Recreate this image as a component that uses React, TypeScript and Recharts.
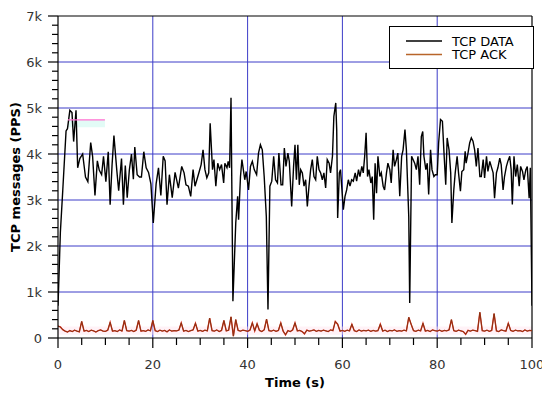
import React from "react";
import {
  LineChart,
  Line,
  XAxis,
  YAxis,
  CartesianGrid,
  ReferenceLine,
  ReferenceArea
} from "recharts";

// TCP DATA samples: [time (s), packets per second]
const dataSeg1: [number, number][] = [
  [0, 700], [0.1, 1000], [0.5, 2300], [1.0, 3200], [1.7, 4500], [2.0, 4550],
  [2.5, 4950], [2.95, 4900], [3.3, 4270], [3.8, 4950], [4.15, 3700], [4.6, 3900],
  [5.2, 4000], [5.8, 3500], [6.3, 3400], [6.9, 4250], [7.3, 3950], [7.8, 3100],
  [8.3, 3850], [8.7, 3650], [9.2, 3550], [9.6, 3950], [10.1, 3400], [10.6, 4050],
  [11.0, 2900], [11.4, 3750], [11.8, 4400], [12.4, 3650], [12.8, 3200], [13.4, 3900],
  [13.8, 2900], [14.2, 3750], [14.6, 3050], [15.05, 3650], [15.5, 4000], [15.9, 3450],
  [16.2, 4150], [16.7, 3550], [17.2, 3500], [17.6, 3500], [18.1, 4050], [18.6, 3700],
  [19.1, 3600], [19.6, 3350], [20.1, 2500], [20.7, 3350], [21.2, 3700], [21.7, 3100],
  [22.2, 3950], [22.6, 3850], [23.0, 2900], [23.5, 3550], [24.1, 3050], [24.7, 3600]
];

const dataSeg2: [number, number][] = [
  [25.4, 3260], [26.1, 3730], [26.6, 3590], [27.0, 3330], [27.5, 3300], [28.0, 3080],
  [28.5, 3660], [28.9, 3300], [29.3, 3440], [29.8, 3620], [30.2, 3770], [30.6, 4090],
  [31.0, 3660], [31.4, 3480], [31.8, 3590], [32.1, 4670], [32.6, 3660], [32.9, 3880],
  [33.3, 3300], [33.7, 3800], [34.1, 3660], [34.5, 3770], [34.95, 3370], [35.2, 3800],
  [35.65, 3700], [35.9, 3840], [36.2, 3700], [36.5, 5220], [36.9, 800], [37.5, 2500],
  [37.9, 3080], [38.1, 2570], [38.5, 3510], [38.8, 3880], [39.1, 3660], [39.4, 3440],
  [39.7, 3620], [40.2, 3220], [40.6, 3730], [41.0, 3840], [41.4, 3660], [41.9, 3550],
  [42.3, 4020], [42.7, 4200], [43.1, 4090], [43.5, 3510], [43.95, 2640], [44.3, 620],
  [44.7, 3300], [45.1, 3410], [45.5, 3950], [45.9, 3440], [46.3, 3370], [46.6, 4020],
  [47.05, 3330], [47.4, 3330], [47.75, 4130], [48.1, 3730], [48.5, 4020], [48.8, 3840],
  [49.3, 2860], [49.7, 3730], [50.0, 4200]
];

const dataSeg3: [number, number][] = [
  [50.3, 3440], [50.6, 4200], [50.9, 3330], [51.2, 3660], [51.55, 3590], [51.9, 3300],
  [52.25, 3440], [52.6, 2860], [52.95, 3300], [53.3, 3660], [53.65, 3880], [54.0, 3510],
  [54.36, 3440], [54.7, 3950], [55.06, 3660], [55.4, 3590], [55.77, 3440], [56.1, 3590],
  [56.47, 3260], [56.8, 3880], [57.2, 3800], [57.5, 3590], [57.9, 3950], [58.2, 4820],
  [58.6, 5110], [58.8, 4530], [59.0, 2610], [59.35, 3590], [59.6, 3660], [59.85, 3300],
  [60.2, 2790], [60.55, 3080], [60.9, 3220], [61.25, 3440], [61.6, 3300], [61.95, 3440],
  [62.3, 3410], [62.7, 3590], [63.0, 3410], [63.4, 3660], [63.7, 3510], [64.1, 3730],
  [64.4, 3590], [64.7, 3950], [65.0, 4460], [65.3, 3510], [65.6, 3660], [66.0, 3370],
  [66.3, 3510], [66.6, 2570], [66.9, 3800], [67.2, 3150], [67.5, 3950], [67.9, 3510],
  [68.2, 3590], [68.6, 3300], [68.9, 3220], [69.3, 3590], [69.6, 3800], [70.0, 3660],
  [70.3, 3370], [70.7, 4090], [71.0, 3730], [71.4, 3880], [71.7, 4020], [72.1, 3080],
  [72.5, 3950], [72.8, 4090], [73.2, 4530], [73.5, 4090], [74.0, 2640], [74.2, 760],
  [74.6, 3950]
];

const dataSeg4: [number, number][] = [
  [75.25, 3800], [75.6, 3660], [75.95, 3950], [76.3, 3330], [76.65, 4380], [76.95, 4490],
  [77.2, 3950], [77.6, 3660], [77.9, 3800], [78.2, 3120], [78.6, 4090], [78.9, 3660],
  [79.3, 3510], [79.6, 3550], [80.0, 3550], [80.3, 4240], [80.7, 4750], [81.1, 4710],
  [81.4, 4090], [81.8, 3330], [82.1, 4350], [82.5, 4090], [82.85, 3590], [83.1, 2500],
  [83.5, 3220], [83.8, 3590], [84.2, 3950], [84.5, 3590], [84.9, 3190], [85.2, 3620],
  [85.6, 3660], [85.9, 4060], [86.1, 3800], [86.5, 4020], [86.85, 4240], [87.2, 4350],
  [87.55, 4280], [87.9, 4090], [88.25, 3730], [88.6, 4130], [89.0, 3510], [89.3, 3510],
  [89.7, 3880], [90.0, 3480], [90.4, 3950], [90.7, 3620], [91.1, 3840], [91.4, 3730],
  [91.8, 3590], [92.1, 3040], [92.5, 3590], [92.8, 3700], [93.2, 3910], [93.5, 3770],
  [93.9, 3220], [94.2, 3510], [94.6, 3730], [94.9, 3840], [95.3, 3950], [95.6, 3660],
  [95.85, 2900], [96.2, 3950], [96.55, 3510], [96.9, 3770], [97.3, 3300], [97.6, 3730],
  [98.0, 3620], [98.3, 3440], [98.7, 3660], [99.0, 3730], [99.4, 3040], [99.65, 3700],
  [100, 700]
];

// TCP ACK, one value every 0.5 s from 0 to 100 s
const ackStep = 0.5;
const ackPps = [
  260, 240, 180, 150, 130, 160, 140, 170, 150, 135,
  360, 150, 165, 140, 170, 155, 130, 160, 175, 150,
  145, 170, 340, 150, 160, 140, 175, 150, 380, 160,
  150, 165, 140, 170, 380, 150, 160, 145, 175, 155,
  380, 160, 140, 170, 150, 165, 135, 175, 150, 160,
  155, 170, 330, 150, 165, 140, 160, 175, 320, 150,
  165, 145, 170, 155, 430, 160, 150, 175, 140, 165,
  380, 155, 170, 460, 40, 400, 165, 150, 170, 160,
  145, 170, 330, 155, 310, 165, 140, 175, 410, 160,
  150, 170, 145, 165, 330, 150, 70, 160, 140, 175,
  330, 155, 165, 140, 90, 170, 150, 160, 175, 145,
  165, 150, 170, 155, 140, 175, 160, 360, 300, 150,
  165, 145, 170, 155, 300, 160, 140, 175, 150, 165,
  155, 170, 145, 165, 150, 160, 300, 150, 170, 140,
  165, 155, 175, 145, 160, 150, 170, 155, 450, 300,
  160, 145, 170, 155, 320, 150, 165, 140, 175, 160,
  150, 170, 145, 165, 155, 175, 400, 160, 145, 170,
  155, 140, 80, 165, 150, 170, 160, 145, 560, 160,
  150, 170, 145, 165, 530, 155, 140, 175, 160, 150,
  320, 165, 145, 170, 155, 160, 140, 175, 150, 165,
  160
];

const xTicks = [0, 5, 10, 15, 20, 25, 30, 35, 40, 45, 50, 55, 60, 65, 70, 75, 80, 85, 90, 95, 100];
const yTicks = [
  0, 200, 400, 600, 800, 1000, 1200, 1400, 1600, 1800, 2000, 2200, 2400, 2600, 2800,
  3000, 3200, 3400, 3600, 3800, 4000, 4200, 4400, 4600, 4800, 5000, 5200, 5400, 5600,
  5800, 6000, 6200, 6400, 6600, 6800, 7000
];
const gridX = [20, 40, 60, 80];
const gridY = [1000, 2000, 3000, 4000, 5000, 6000];

const dataRows = [...dataSeg1, ...dataSeg2, ...dataSeg3, ...dataSeg4].map(([t, pps]) => ({ t, pps }));
const ackRows = ackPps.map((ack, i) => ({ t: i * ackStep, ack }));

const FONT = "'DejaVu Sans', Verdana, sans-serif";
const GRID = "#3c3cc8";

function XTick({ x, y, payload }: any) {
  const v = payload.value;
  const major = v % 20 === 0;
  return (
    <g>
      <line x1={x} x2={x} y1={y} y2={y + (major ? 10 : 7)} stroke="#000" strokeWidth={1.2} />
      {major && (
        <text x={x} y={y + 26} textAnchor="middle" dominantBaseline="central" fontSize={13} fill="#333" fontFamily={FONT}>
          {v}
        </text>
      )}
    </g>
  );
}

function YTick({ x, y, payload }: any) {
  const v = payload.value;
  const major = v % 1000 === 0;
  return (
    <g>
      <line x1={x} x2={x - (major ? 10 : 6)} y1={y} y2={y} stroke="#000" strokeWidth={1.2} />
      {major && (
        <text x={x - 16} y={y} textAnchor="end" dominantBaseline="central" fontSize={13} fill="#333" fontFamily={FONT}>
          {v === 0 ? "0" : `${v / 1000}k`}
        </text>
      )}
    </g>
  );
}

function XTitle({ viewBox }: any) {
  const vb = viewBox ?? { x: 50, y: 330, width: 474 };
  return (
    <text x={vb.x + vb.width / 2} y={vb.y + 44} textAnchor="middle" dominantBaseline="central" fontSize={13} fontWeight="bold" fill="#000" fontFamily={FONT}>
      Time (s)
    </text>
  );
}

function YTitle({ viewBox }: any) {
  const vb = viewBox ?? { x: 0, y: 8, height: 322 };
  const cx = vb.x + 7;
  const cy = vb.y + vb.height / 2;
  return (
    <text x={cx} y={cy} transform={`rotate(-90 ${cx} ${cy})`} textAnchor="middle" dominantBaseline="central" fontSize={13} fontWeight="bold" fill="#000" fontFamily={FONT}>
      TCP messages (PPS)
    </text>
  );
}

function LegendBox() {
  return (
    <div
      style={{
        position: "absolute",
        left: 381,
        top: 18,
        width: 143,
        height: 41,
        border: "1.5px solid #000",
        background: "#fff",
        fontFamily: FONT
      }}
    >
      <svg width={143} height={41}>
        <line x1={16} x2={52} y1={14} y2={14} stroke="#000" strokeWidth={1.5} />
        <line x1={16} x2={52} y1={27.5} y2={27.5} stroke="#b8652a" strokeWidth={1.5} />
        <text x={62} y={14} dominantBaseline="central" fontSize={13} fill="#000" fontFamily={FONT}>TCP DATA</text>
        <text x={62} y={27.5} dominantBaseline="central" fontSize={13} fill="#000" fontFamily={FONT}>TCP ACK</text>
      </svg>
    </div>
  );
}

export default function App() {
  return (
    <div style={{ position: "relative", width: 542, height: 389, fontFamily: FONT }}>
      <LineChart width={542} height={389} margin={{ top: 8, right: 18, bottom: 0, left: 0 }}>
        <CartesianGrid stroke={GRID} strokeWidth={1} horizontalValues={gridY} verticalValues={gridX} />
        <ReferenceArea x1={2.1} x2={9.9} y1={4580} y2={4740} fill="#e2fbf6" fillOpacity={1} stroke="none" />
        <ReferenceArea x1={0} x2={100} y1={70} y2={250} fill="#ffe3ee" fillOpacity={0.45} stroke="none" />
        <XAxis
          type="number"
          dataKey="t"
          domain={[0, 100]}
          ticks={xTicks}
          interval={0}
          tickSize={0}
          tickMargin={0}
          tick={<XTick />}
          axisLine={{ stroke: "#000", strokeWidth: 1.2 }}
          height={59}
          label={<XTitle />}
          allowDataOverflow
        />
        <YAxis
          type="number"
          domain={[0, 7000]}
          ticks={yTicks}
          interval={0}
          tickSize={0}
          tickMargin={0}
          tick={<YTick />}
          axisLine={{ stroke: "#000", strokeWidth: 1.2 }}
          width={50}
          label={<YTitle />}
          allowDataOverflow
        />
        <ReferenceLine y={7000} stroke="#000" strokeWidth={1.2} />
        <ReferenceLine x={100} stroke="#000" strokeWidth={1.2} />
        <Line data={dataRows} dataKey="pps" type="linear" stroke="#000" strokeWidth={1.4} dot={false} isAnimationActive={false} />
        <Line data={ackRows} dataKey="ack" type="linear" stroke="#d42a1a" strokeWidth={1.4} dot={false} isAnimationActive={false} />
        <Line data={ackRows} dataKey="ack" type="linear" stroke="#7a3510" strokeWidth={0.8} dot={false} isAnimationActive={false} />
        <ReferenceLine
          segment={[{ x: 2.1, y: 4740 }, { x: 9.9, y: 4740 }]}
          stroke="#ff70d0"
          strokeWidth={1.2}
        />
      </LineChart>
      <LegendBox />
    </div>
  );
}
